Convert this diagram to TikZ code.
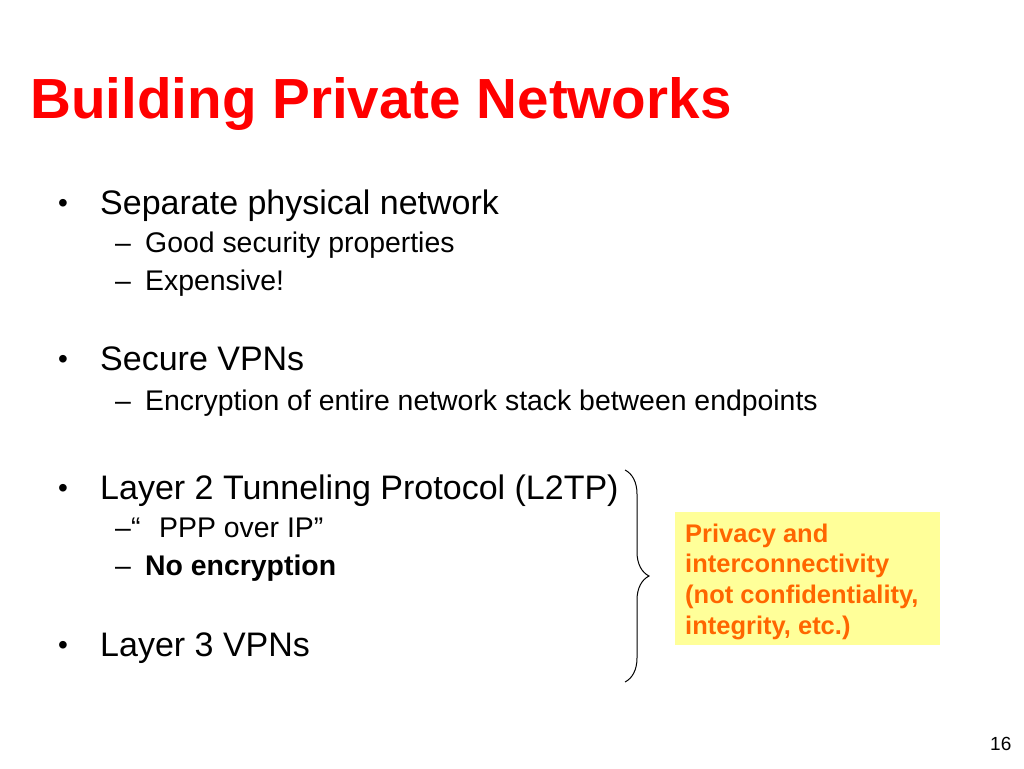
\documentclass[tikz,border=0pt]{standalone}
\usepackage{fontspec}
\setmainfont{Liberation Sans}
\usetikzlibrary{decorations.pathreplacing}
\definecolor{titlered}{RGB}{255,0,0}
\definecolor{noteorange}{RGB}{255,102,0}
\definecolor{noteyellow}{RGB}{255,255,153}
\tikzset{
    txt/.style={anchor=base west,inner sep=0pt},
    bullet/.style={txt,font=\fontsize{34}{40}\selectfont},
    sub/.style={txt,font=\fontsize{28.4}{33}\selectfont},
    note/.style={txt,font=\fontsize{25.5}{30}\selectfont\bfseries,text=noteorange}
}
\begin{document}
\begin{tikzpicture}[x=1pt,y=-1pt]
    \useasboundingbox[fill=white] (0,0) rectangle (1024,768);
    \node[txt,font=\fontsize{56.6}{62}\selectfont\bfseries,text=titlered] (title) at (30,118) {Building Private Networks};

    \node[bullet,font=\fontsize{28}{32}\selectfont] (b1d) at (58,212) {•};
    \node[bullet] (b1) at (100,214) {Separate physical network};
    \node[sub] (s1d) at (115,252) {--};
    \node[sub] (s1) at (145,252) {Good security properties};
    \node[sub] (s2d) at (115,290) {--};
    \node[sub] (s2) at (145,290) {Expensive!};

    \node[bullet,font=\fontsize{28}{32}\selectfont] (b2d) at (58,368) {•};
    \node[bullet] (b2) at (100,370) {Secure VPNs};
    \node[sub] (s3d) at (115,410) {--};
    \node[sub] (s3) at (145,410) {Encryption of entire network stack between endpoints};

    \node[bullet,font=\fontsize{28}{32}\selectfont] (b3d) at (58,497) {•};
    \node[bullet] (b3) at (100,499) {Layer 2 Tunneling Protocol (L2TP)};
    \node[sub] (s4d) at (115,537) {--};
    \node[sub] (s4q) at (131,537) {“};
    \node[sub] (s4) at (159,537) {PPP over IP”};
    \node[sub] (s5d) at (115,575) {--};
    \node[sub,font=\fontsize{28.4}{33}\selectfont\bfseries] (s5) at (145,575) {No encryption};

    \node[bullet,font=\fontsize{28}{32}\selectfont] (b4d) at (58,654) {•};
    \node[bullet] (b4) at (100,656) {Layer 3 VPNs};

    \coordinate (bracetop) at (625,470);
    \coordinate (bracebot) at (625,682);
    \draw[line width=1pt,decorate,decoration={brace,amplitude=24pt}] (bracetop) -- (bracebot);

    \fill[noteyellow] (675,512) rectangle (940,645);
    \node[note] (n1) at (685,542) {Privacy and};
    \node[note] (n2) at (685,572) {interconnectivity};
    \node[note] (n3) at (685,603) {(not confidentiality,};
    \node[note] (n4) at (685,634) {integrity, etc.)};

    \node[txt,font=\fontsize{19}{22}\selectfont] (page) at (990,750) {16};
\end{tikzpicture}
\end{document}
